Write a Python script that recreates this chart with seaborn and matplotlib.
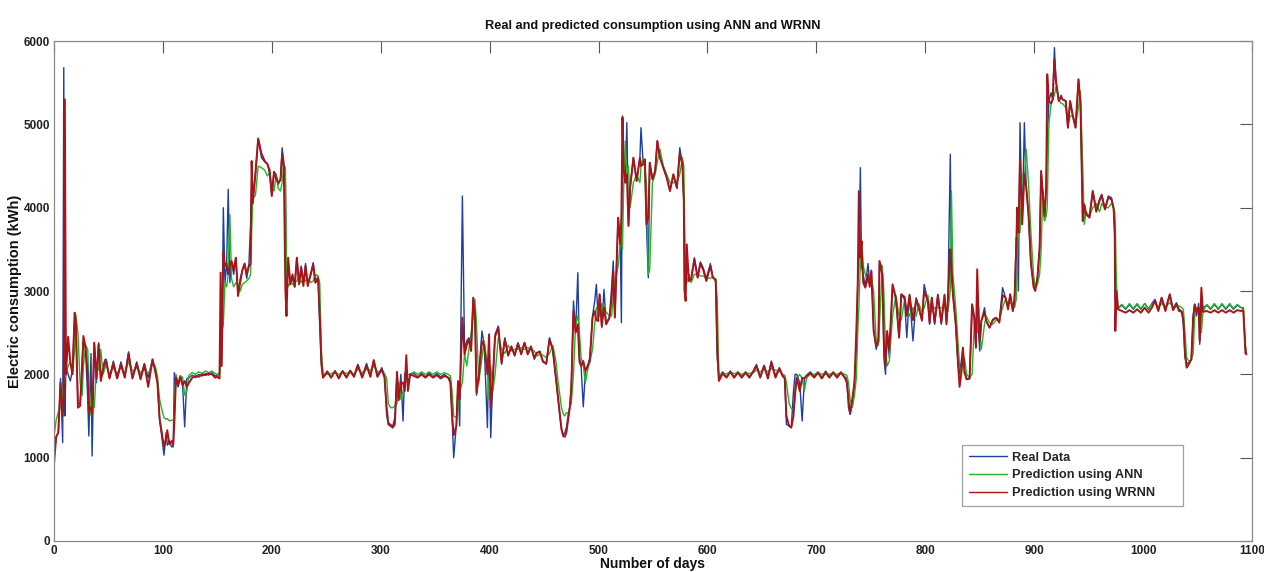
import matplotlib
matplotlib.use("Agg")
import matplotlib.pyplot as plt
import seaborn as sns
import pandas as pd

# Day index and consumption values (kWh)
days = [
    0, 2, 4, 6, 8, 9, 10, 11, 13, 15, 17, 19, 20, 22, 24, 26, 27, 29, 31, 32, 34, 35, 37, 39, 41, 43, 45, 47,
    48, 51, 54.5, 58, 61.5, 65, 68.5, 72, 76, 79.5, 83, 86.5, 90.5, 93, 95, 97, 99, 101, 103, 104, 106, 108, 109.5,
    110.5, 112, 114, 116, 118, 120, 122, 124, 127, 130, 133, 136, 139, 142, 145, 148, 150, 152, 153, 154, 155.5,
    157, 158.5, 160, 161.5, 163, 165, 167, 169, 171, 173, 175, 177, 179, 180.5, 181.5, 182.5, 185, 187.5, 190.5,
    193.5, 196, 198, 200, 202, 204, 206, 208, 209.5, 211, 212.5, 213.5, 215, 217, 219, 221, 223, 225, 227, 229,
    231, 233, 236, 238, 240, 242.5, 244, 245.5, 247, 251, 254.5, 258, 261.5, 265, 268.5, 272, 275.5, 279, 283,
    287, 290.5, 293.6, 297, 301, 303.5, 305.5, 307, 309, 311, 313, 315, 316.5, 318.5, 320.5, 322, 323.5, 325,
    327, 330.5, 334, 337.5, 341, 344.5, 348, 351.5, 355, 358.5, 362, 364, 365.5, 367, 369.5, 371, 372.5, 375,
    377, 379, 381, 383, 385, 386.5, 388, 390, 393, 395, 398, 399.5, 401, 403, 405, 408, 411, 414, 417, 420, 423,
    426, 429, 432, 435, 438, 441, 443.5, 446, 449, 452, 455, 458, 461, 463, 464.5, 466, 467.5, 469, 470.5, 472,
    473.6, 475, 477, 479, 481, 482.5, 484, 486, 488, 490, 492, 494.5, 496.5, 498, 499.7, 501, 503, 505, 507, 510,
    512, 513.5, 515, 518, 520, 521, 522, 523, 524.5, 526, 527.5, 529, 532, 535, 538, 539, 541, 542.5, 544, 545.7,
    547, 549.5, 552, 554, 556.4, 559.5, 562.6, 565.6, 568.7, 572, 574.6, 577, 578.3, 579, 580, 581, 583, 585, 588,
    591, 593.5, 596, 599, 602.7, 605, 607.6, 609, 610.5, 614, 617.5, 621, 624.5, 628, 631.5, 635, 638.5, 642, 645,
    648.5, 652, 655.5, 658.7, 662.5, 666, 669, 671, 672.5, 675, 677, 679, 680.5, 682, 684.7, 687, 689, 691, 694.5,
    698, 701.5, 705, 708.5, 712, 715.5, 719, 722.5, 726, 728, 729.5, 731, 733, 735, 736.7, 738, 739, 740.4, 741.5,
    743, 745, 747.4, 749, 750.5, 752.6, 755, 757, 758, 760.5, 762, 763.5, 765, 767, 770, 773, 776, 778, 781, 783,
    785.6, 788.7, 791.7, 794, 797, 799, 802.4, 804, 806, 808.6, 811.6, 814.7, 817.7, 819.5, 820.8, 823, 824, 825.4,
    828, 830, 831.5, 833, 834.6, 836, 838, 840.7, 843, 845, 846.5, 847.7, 849, 850, 851.5, 854.4, 856, 859, 862,
    865, 868, 871, 873.7, 876, 878, 880.4, 882, 883.5, 884.4, 885.5, 887, 889, 891, 892.7, 894.8, 897, 899.4, 901,
    903, 905, 906.4, 908, 909.5, 911, 912, 913.5, 915.6, 917, 918.6, 920, 922.6, 924.8, 926, 929, 931, 933, 935.5,
    938, 940.7, 942.5, 944.6, 946, 947.7, 950.8, 953.8, 957, 960, 962, 965, 968, 971, 973, 974, 974.5, 975.5, 977,
    980.5, 984, 987.5, 991, 994.5, 998, 1001.5, 1005, 1008, 1011, 1014, 1017, 1020.5, 1024.5, 1027.5, 1030.6, 1033,
    1035.5, 1037, 1038.5, 1040, 1042, 1044.3, 1046, 1047.4, 1049, 1051, 1052, 1053.5, 1055, 1058.5, 1062, 1065.5,
    1069, 1072.5, 1076, 1079.5, 1083, 1086.5, 1090, 1092, 1094, 1095,
]

real_data = [
    1000, 1250, 1300, 1950, 1180, 5680, 1500, 2100, 2000, 1920, 2050, 2700, 2650, 1650, 1650, 2200, 2400, 2300, 1700, 1260, 2250, 1020, 2380, 1900, 2380, 1950, 2100, 2180,
    2180, 1960, 2160, 1960, 2150, 1970, 2270, 1960, 2150, 1960, 2130, 1960, 2180, 2050, 1920, 1450, 1250, 1030, 1300, 1150, 1200, 1130, 1130,
    2020, 1900, 1850, 1950, 1900, 1370, 1950, 1960, 1990, 1960, 2000, 1980, 2010, 1990, 2020, 1980, 1990, 2020, 2600, 2200, 4000,
    3100, 3300, 4220, 3100, 3360, 3200, 3400, 2950, 3150, 3250, 3320, 3150, 3330, 3800, 4300, 4100, 4400, 4830, 4600,
    4550, 4530, 4400, 4150, 4430, 4400, 4280, 4350, 4720, 4550, 4300, 3000, 3350, 3100, 3150, 3050, 3400, 3100, 3300, 3100,
    3330, 3080, 3200, 3340, 3100, 3180, 2600, 2100, 1960, 2040, 1960, 2040, 1960, 2040, 1970, 2050, 1980, 2120, 1970,
    2130, 1980, 2170, 1980, 2080, 1980, 1500, 1420, 1400, 1380, 1480, 2020, 1700, 2000, 1440, 2000, 2050, 1850,
    2000, 2010, 1970, 2010, 1970, 2020, 1970, 2010, 1970, 2000, 1960, 1950, 1500, 1000, 1400, 1900, 1380, 4140,
    2300, 2400, 2440, 2300, 2920, 2800, 1750, 2000, 2520, 2360, 1360, 2480, 1240, 1960, 2480, 2580, 2120, 2440, 2220, 2340, 2220,
    2380, 2250, 2380, 2250, 2340, 2180, 2250, 2280, 2160, 2120, 2440, 2280, 1920, 1680, 1500, 1340, 1270, 1300, 1360, 1500,
    1600, 1850, 2880, 2520, 3220, 2200, 2100, 1610, 2050, 2100, 2200, 2700, 2880, 3080, 2650, 2960, 2560, 3020, 2610, 2680,
    3040, 3360, 2700, 3880, 3560, 2620, 5100, 4480, 4300, 5020, 3800, 4240, 4600, 4320, 4600, 4960, 4520, 4550, 3800, 3160,
    4540, 4340, 4440, 4800, 4600, 4480, 4360, 4200, 4400, 4230, 4720, 4520, 4040, 3000, 3100, 3350, 3120, 3150, 3400,
    3160, 3350, 3280, 3150, 3330, 3160, 3130, 2200, 1960, 2030, 1970, 2040, 1970, 2030, 1970, 2030, 1970, 2040, 2120,
    1970, 2110, 1970, 2160, 1980, 2080, 1990, 1960, 1400, 1380, 1370, 1800, 2000, 2000, 1900, 1440, 1950, 1990, 2030,
    1970, 2030, 1960, 2040, 1970, 2030, 1970, 2030, 1970, 1950, 1600, 1520, 1650, 1920, 2300, 3100, 3300, 4480, 3300,
    3200, 3050, 3330, 3100, 3250, 2550, 2300, 2450, 3350, 3280, 2200, 2000, 2500, 2200, 3060, 2900, 2450, 2960, 2900, 2440,
    2960, 2400, 2920, 2800, 2640, 3080, 2880, 2600, 2920, 2600, 2960, 2600, 2960, 2620, 2920, 4640, 3200, 2960,
    2600, 2120, 2000, 2150, 2320, 2050, 1940, 1950, 2840, 2680, 2320, 3000, 2500, 2280, 2640, 2800, 2640, 2560, 2660,
    2680, 2640, 3040, 2920, 2800, 2960, 2760, 2960, 3640, 3640, 3000, 5020, 3800, 5020, 4240, 3920, 3320, 3080, 3040,
    3160, 3520, 4440, 4160, 3850, 4240, 4800, 5280, 5380, 5300, 5920, 5520, 5280, 5350, 5300, 5280, 4960, 5280, 5100,
    4960, 5540, 5250, 3840, 4040, 3920, 3900, 4200, 3980, 4100, 4160, 3980, 4140, 4120, 4000, 3640, 2900, 2960, 2790,
    2830, 2780, 2840, 2780, 2840, 2780, 2850, 2780, 2850, 2900, 2780, 2920, 2790, 2960, 2790, 2860, 2780,
    2760, 2600, 2200, 2130, 2140, 2180, 2700, 2840, 2700, 2850, 2360, 2800, 2800, 2830, 2780, 2840,
    2780, 2840, 2780, 2840, 2780, 2830, 2800, 2800, 2300, 2260,
]

pred_ann = [
    1250, 1450, 1550, 1600, 1750, 1900, 1950, 2000, 2100, 2150, 2000, 2300, 2720, 2500, 1900, 1750, 2100, 2350, 2300, 1900, 1500, 1700, 1600, 2100, 2050, 2300, 2000, 2080,
    2120, 2000, 2080, 2010, 2090, 2020, 2150, 2040, 2080, 2020, 2060, 2010, 2120, 2100, 1980, 1700, 1580, 1480, 1460, 1470, 1440, 1450, 1450,
    1500, 2000, 1900, 1940, 1970, 1750, 1800, 1990, 2020, 2000, 2030, 2010, 2040, 2020, 2040, 2010, 2000, 1990, 2100, 2500, 2600,
    3100, 3050, 3200, 3920, 3150, 3050, 3100, 3080, 3000, 3080, 3100, 3120, 3150, 3200, 3700, 4100, 4150, 4500, 4480,
    4450, 4380, 4420, 4250, 4200, 4380, 4230, 4200, 4300, 4520, 4480, 3200, 3050, 3100, 3080, 3100, 3120, 3180, 3100, 3150,
    3120, 3150, 3100, 3120, 3200, 3180, 3100, 2300, 2000, 2000, 2010, 2020, 2000, 2030, 2010, 2030, 2000, 2060, 2020,
    2060, 2050, 2100, 2030, 2040, 2010, 1950, 1650, 1600, 1600, 1620, 1650, 1900, 1700, 1800, 1800, 1950, 2000,
    2000, 2030, 2000, 2030, 2000, 2030, 2000, 2030, 2000, 2020, 2000, 1980, 1800, 1500, 1480, 1600, 1800, 1900,
    2250, 2100, 2300, 2500, 2700, 2900, 2600, 1900, 2200, 2400, 2100, 1700, 2100, 1800, 2000, 2450, 2300, 2250, 2350, 2280, 2300,
    2300, 2320, 2300, 2320, 2300, 2280, 2220, 2240, 2230, 2200, 2250, 2350, 2150, 1900, 1750, 1600, 1530, 1500, 1540, 1530,
    1600, 1650, 2000, 2600, 2700, 2500, 2200, 2100, 1900, 2050, 2150, 2300, 2600, 2800, 2750, 2700, 2850, 2700, 2750, 2700,
    2700, 2900, 3100, 3300, 3600, 3700, 3500, 4200, 4800, 4400, 4500, 4000, 4300, 4400, 4300, 4500, 4600, 4500, 4300, 3200,
    3250, 4300, 4400, 4550, 4700, 4500, 4400, 4300, 4300, 4300, 4400, 4600, 4500, 3800, 3200, 3100, 3200, 3100, 3200,
    3200, 3180, 3180, 3160, 3150, 3180, 3100, 2900, 2000, 2000, 2010, 2020, 2010, 2020, 2000, 2020, 2010, 2020, 2050,
    2030, 2060, 2030, 2070, 2050, 2040, 2000, 1990, 1900, 1650, 1590, 1580, 1700, 1950, 2000, 1950, 1800, 1950, 2010,
    2000, 2020, 2000, 2020, 2000, 2020, 2000, 2020, 2000, 1990, 1900, 1700, 1600, 1750, 1950, 2500, 2800, 3300, 3600,
    3300, 3200, 3100, 3200, 3150, 3000, 2400, 2350, 2600, 3300, 3000, 2300, 2100, 2160, 2700, 2950, 2700, 2650, 2900, 2800,
    2700, 2800, 2700, 2850, 2750, 2800, 2950, 2800, 2750, 2800, 2800, 2800, 2800, 2800, 2750, 3000, 4200, 3200,
    2800, 2400, 2100, 2000, 2150, 2200, 2000, 1960, 2000, 2600, 2600, 2500, 2800, 2500, 2300, 2600, 2700, 2620, 2600,
    2650, 2660, 2800, 2900, 2850, 2850, 2850, 2800, 2900, 3300, 3800, 3700, 4400, 4360, 4700, 4300, 3700, 3200, 3040,
    3080, 3200, 3500, 4200, 3840, 3900, 4000, 5000, 5250, 5300, 5350, 5450, 5300, 5250, 5250, 5200, 5000, 5100, 5100,
    5000, 5200, 5400, 4500, 3800, 3950, 3900, 4000, 4050, 3950, 4050, 4000, 4000, 4050, 4000, 3950, 3800, 3100, 2800,
    2840, 2790, 2850, 2790, 2850, 2790, 2850, 2790, 2840, 2860, 2800, 2850, 2810, 2860, 2810, 2830, 2820,
    2800, 2780, 2500, 2200, 2160, 2170, 2250, 2700, 2800, 2750, 2800, 2500, 2750, 2840, 2790, 2850,
    2790, 2850, 2790, 2850, 2790, 2840, 2800, 2790, 2350, 2280,
]

pred_wrnn = [
    920, 1250, 1300, 1900, 1500, 1700, 5300, 2000, 2450, 2150, 2000, 2740, 2650, 1600, 1620, 2100, 2460, 2330, 2000, 1550, 1600, 1520, 2380, 1950, 2360, 1920, 2050, 2150,
    2150, 1950, 2130, 1950, 2120, 1960, 2250, 1950, 2130, 1940, 2120, 1850, 2180, 2030, 1900, 1470, 1300, 1130, 1230, 1330, 1160, 1200, 1150,
    1400, 1960, 1880, 1980, 1870, 1920, 1850, 1900, 1960, 1980, 1970, 2000, 1990, 2010, 2000, 1960, 1970, 1950, 3220, 2100, 3460,
    3300, 3330, 3200, 3300, 3360, 3250, 3400, 2940, 3100, 3250, 3330, 3200, 3300, 3320, 4560, 4050, 4420, 4830, 4650,
    4560, 4520, 4450, 4140, 4430, 4350, 4300, 4330, 4640, 4500, 3000, 2700, 3400, 3080, 3200, 3050, 3400, 3080, 3280, 3060,
    3300, 3060, 3220, 3320, 3100, 3150, 2700, 2160, 1960, 2030, 1960, 2040, 1950, 2040, 1960, 2040, 1970, 2110, 1960,
    2110, 1970, 2170, 1970, 2060, 1960, 1600, 1400, 1380, 1360, 1400, 2030, 1690, 1900, 1900, 1800, 2230, 1800,
    2000, 1980, 1960, 2000, 1960, 2000, 1960, 1990, 1950, 1980, 1960, 1900, 1520, 1270, 1380, 1920, 1700, 2680,
    2240, 2350, 2420, 2280, 2920, 2700, 1780, 1960, 2400, 2350, 2000, 2480, 1600, 1960, 2450, 2560, 2140, 2420, 2230, 2330, 2230,
    2370, 2240, 2380, 2240, 2330, 2200, 2260, 2270, 2150, 2130, 2420, 2300, 1950, 1700, 1520, 1340, 1260, 1250, 1300, 1450,
    1600, 1840, 2760, 2500, 2600, 2150, 2100, 2160, 2040, 2100, 2160, 2680, 2760, 2650, 2640, 2960, 2580, 2800, 2600, 2680,
    2900, 3240, 2680, 3880, 3560, 3920, 5080, 4480, 4300, 4400, 3780, 4240, 4600, 4320, 4600, 4500, 4520, 4580, 3800, 3880,
    4540, 4340, 4440, 4800, 4600, 4480, 4360, 4200, 4400, 4240, 4650, 4520, 4100, 3000, 2880, 3560, 3120, 3140, 3380,
    3160, 3330, 3260, 3120, 3300, 3160, 3140, 2300, 1920, 2010, 1960, 2030, 1960, 2020, 1960, 2020, 1960, 2030, 2100,
    1960, 2100, 1950, 2140, 1960, 2070, 1980, 1950, 1500, 1380, 1360, 1500, 1800, 1960, 1800, 1960, 1950, 1980, 2010,
    1960, 2020, 1950, 2020, 1960, 2020, 1960, 2020, 1960, 1900, 1700, 1530, 1700, 1900, 2520, 3080, 4200, 3400, 3600,
    3100, 3040, 3200, 3050, 3240, 2520, 2330, 2400, 3360, 3200, 2400, 2100, 2520, 2300, 3080, 2920, 2440, 2960, 2930, 2700,
    2950, 2650, 2900, 2800, 2650, 3000, 2880, 2620, 2920, 2620, 2950, 2620, 2950, 2600, 2900, 3500, 3300, 2960,
    2600, 2150, 1850, 2000, 2320, 2020, 1940, 1950, 2840, 2680, 2320, 3260, 2700, 2400, 2640, 2750, 2640, 2560, 2650,
    2680, 2620, 2950, 2920, 2780, 2960, 2760, 2900, 3500, 4000, 3700, 4560, 3800, 4400, 4250, 3920, 3350, 3050, 3000,
    3160, 3520, 4440, 4160, 3900, 4240, 5600, 5280, 5250, 5300, 5780, 5520, 5280, 5330, 5300, 5280, 4960, 5280, 5100,
    4960, 5540, 5250, 3840, 4040, 3920, 3880, 4200, 3950, 4080, 4150, 3980, 4120, 4100, 3980, 3700, 2520, 3000, 2780,
    2760, 2740, 2770, 2740, 2780, 2740, 2800, 2740, 2800, 2880, 2760, 2920, 2760, 2960, 2770, 2840, 2760,
    2750, 2650, 2250, 2080, 2120, 2180, 2680, 2840, 2750, 2800, 2400, 3040, 2750, 2760, 2740, 2770,
    2740, 2770, 2740, 2770, 2740, 2770, 2760, 2770, 2250, 2240,
]

series_names = ["Real Data", "Prediction using ANN", "Prediction using WRNN"]
series_colors = ["#1c3fa0", "#26b326", "#a81418"]

df = pd.DataFrame({
    "day": days * 3,
    "value": real_data + pred_ann + pred_wrnn,
    "series": [series_names[0]] * len(days) + [series_names[1]] * len(days) + [series_names[2]] * len(days),
})

sns.set_style("white")
plt.rcParams["font.family"] = ["Liberation Sans", "DejaVu Sans"]

fig = plt.figure(figsize=(12.64, 5.72), dpi=100)
ax = fig.add_axes([0.0427, 0.0542, 0.9478, 0.8741])

widths = [1.0, 1.0, 1.4]
for name, col, lw in zip(series_names, series_colors, widths):
    sub = df[df["series"] == name]
    sns.lineplot(data=sub, x="day", y="value", ax=ax, color=col, linewidth=lw,
                 label=name, estimator=None, sort=False)

ax.set_xlim(0, 1100)
ax.set_ylim(0, 6000)
ax.set_xticks(range(0, 1101, 100))
ax.set_yticks(range(0, 6001, 1000))
ax.tick_params(direction="in", length=8.6, width=0.8, top=True, right=True,
               labelsize=8.5, colors="#555555", labelcolor="#222222", pad=3)
for lab in ax.get_xticklabels() + ax.get_yticklabels():
    lab.set_fontweight("bold")
for sp in ax.spines.values():
    sp.set_visible(True)
    sp.set_color("#8a8a8a")
    sp.set_linewidth(0.9)

ax.set_title("Real and predicted consumption using ANN and WRNN", fontsize=9.2,
             fontweight="bold", pad=9, color="#111111")
ax.set_xlabel("Number of days", fontsize=10, fontweight="bold", labelpad=0, color="#111111")
ax.set_ylabel("Electric consumption (kWh)", fontsize=10.5, fontweight="bold", labelpad=1, color="#111111")

# legend box spans x 956-1189 px, bottom ~512 px in the reference
leg = ax.legend(loc="lower left", bbox_to_anchor=(0.753, 0.058, 0.1945, 0.13), mode="expand",
                frameon=True, fancybox=False, edgecolor="#8a8a8a", handlelength=3.0,
                handletextpad=0.4, borderpad=0.5, labelspacing=0.45,
                prop={"weight": "bold", "size": 9.2})
leg.get_frame().set_linewidth(0.9)
for line in leg.get_lines():
    line.set_linewidth(1.0)

fig.savefig("out.png", dpi=100)
